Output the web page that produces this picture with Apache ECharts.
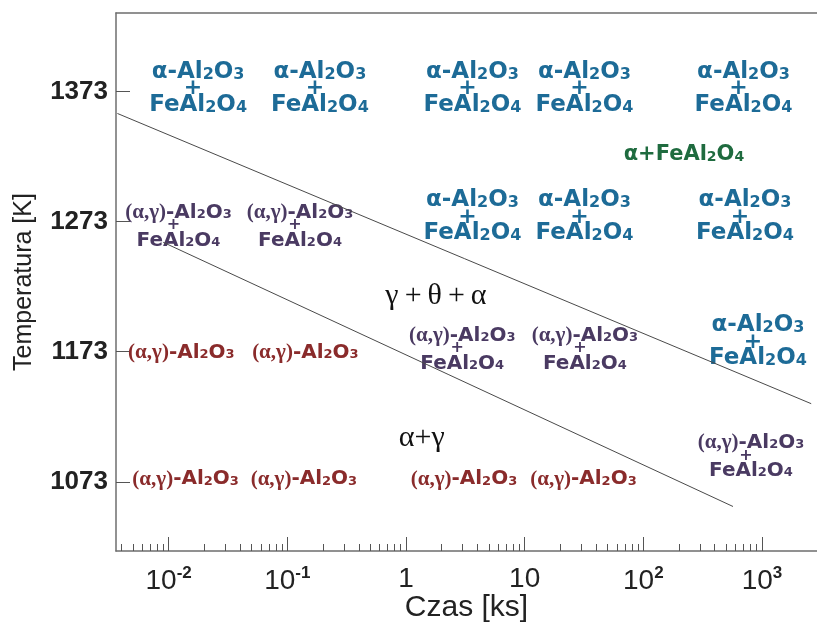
<!DOCTYPE html>
<html>
<head>
<meta charset="utf-8">
<script src="https://cdn.jsdelivr.net/npm/echarts@6/dist/echarts.min.js"></script>
<style>
  html, body { margin: 0; padding: 0; background: #fff; }
  #chart { width: 817px; height: 624px; }
</style>
</head>
<body>
<div id="chart"></div>
<script>
// Axis ranges: annealing time [ks] (log scale) and temperature [K]
const timeMin = 0.0036;
const timeMax = 2910;
const tempMin = 1019.8;
const tempMax = 1433.2;

// Tick positions
const tempTicks = [1073, 1173, 1273, 1373];
const timeMajorTicks = [0.01, 0.1, 1, 10, 100, 1000];
const timeTickLabels = ['10{s|-2}', '10{s|-1}', '1', '10', '10{s|2}', '10{s|3}'];
const timeMinorTicks = [
  0.004, 0.005, 0.006, 0.007, 0.008, 0.009,
  0.02, 0.03, 0.04, 0.05, 0.06, 0.07, 0.08, 0.09,
  0.2, 0.3, 0.4, 0.5, 0.6, 0.7, 0.8, 0.9,
  2, 3, 4, 5, 6, 7, 8, 9,
  20, 30, 40, 50, 60, 70, 80, 90,
  200, 300, 400, 500, 600, 700, 800, 900
];

// Phase boundary lines [time, temperature]
const upperBoundary = [[0.0037, 1356], [2600, 1133]];
const lowerBoundary = [[0.009, 1257], [570, 1054]];

// Observed phases [time, temperature]
const alphaSpinel = [
  [0.0177, 1375.2], [0.188, 1375.2], [3.63, 1375.2], [31.9, 1375.2], [699, 1375.2],
  [3.63, 1276.5], [31.9, 1276.5], [719, 1276.5],
  [925, 1180.5]
];
const alphaGammaSpinel = [
  [0.0121, 1268.5], [0.128, 1268.5],
  [2.98, 1174], [32.2, 1174],
  [808, 1091.5]
];
const alphaGamma = [
  [0.0128, 1172.2], [0.142, 1172.2],
  [0.0139, 1075], [0.138, 1075], [3.08, 1075], [31.3, 1075]
];
const alphaSpinelField = [[220, 1324.5]];

// Phase-field names [time, temperature, text]
const fieldNames = [
  [1.79, 1216, 'γ\u2009+\u2009θ\u2009+\u2009α'],
  [1.36, 1106.5, 'α+γ']
];

const blue = '#1d6b97';
const green = '#1f6b3f';
const purple = '#4a3a62';
const brown = '#8a2b2b';
const sans = 'DejaVu Sans';

function labelSeries(data, text, rich) {
  return {
    type: 'scatter',
    data: data,
    symbolSize: 1,
    itemStyle: { color: 'rgba(0,0,0,0)', opacity: 1 },
    silent: true,
    label: {
      show: true,
      position: 'inside',
      align: 'center',
      verticalAlign: 'middle',
      opacity: 1,
      formatter: text,
      rich: rich
    }
  };
}

const blueRich = {
  t: { fontFamily: sans, fontWeight: 'bold', fontSize: 23, color: blue, lineHeight: 17 },
  d: { fontFamily: sans, fontWeight: 'bold', fontSize: 16, color: blue, lineHeight: 17, padding: [5, 0, 0, 0] },
  p: { fontFamily: sans, fontWeight: 'bold', fontSize: 22, color: blue, lineHeight: 16, padding: [0, 10, 0, 0] }
};
const greenRich = {
  t: { fontFamily: sans, fontWeight: 'bold', fontSize: 21, color: green, lineHeight: 22 },
  d: { fontFamily: sans, fontWeight: 'bold', fontSize: 14, color: green, lineHeight: 22, padding: [5, 0, 0, 0] }
};
function mixRich(color, lh1, lhp, lh3) {
  return {
    g: { fontFamily: 'Liberation Serif', fontWeight: 'bold', fontSize: 21, color: color, lineHeight: lh1 },
    t: { fontFamily: sans, fontWeight: 'bold', fontSize: 20, color: color, lineHeight: lh1 },
    d: { fontFamily: sans, fontWeight: 'bold', fontSize: 13, color: color, lineHeight: lh1, padding: [4, 0, 0, 0] },
    p: { fontFamily: sans, fontWeight: 'bold', fontSize: 16, color: color, lineHeight: lhp, padding: [0, 10, 0, 0] },
    u: { fontFamily: sans, fontWeight: 'bold', fontSize: 20, color: color, lineHeight: lh3 },
    e: { fontFamily: sans, fontWeight: 'bold', fontSize: 13, color: color, lineHeight: lh3, padding: [4, 0, 0, 0] }
  };
}

const blueText = '{t|α-Al}{d|2}{t|O}{d|3}\n{p|+}\n{t|FeAl}{d|2}{t|O}{d|4}';
const greenText = '{t|α+FeAl}{d|2}{t|O}{d|4}';
const purpleText = '{g|(α,γ)}{t|-Al}{d|2}{t|O}{d|3}\n{p|+}\n{u|FeAl}{e|2}{u|O}{e|4}';
const brownText = '{g|(α,γ)}{t|-Al}{d|2}{t|O}{d|3}';

const chart = echarts.init(document.getElementById('chart'), null, { renderer: 'canvas' });

const axisGray = '#6e6e6e';

chart.setOption({
  animation: false,
  backgroundColor: '#fff',
  grid: { left: 116, right: 0, top: 13, bottom: 73, containLabel: false, outerBoundsMode: 'none' },
  xAxis: [
    {
      type: 'log', min: timeMin, max: timeMax, position: 'bottom',
      name: 'Czas [ks]', nameLocation: 'middle', nameGap: 42, nameMoveOverlap: false,
      nameTextStyle: { fontFamily: 'Liberation Sans', fontSize: 30, color: '#222' },
      axisLine: { show: true, lineStyle: { color: axisGray, width: 1.5 } },
      axisTick: { show: true, inside: true, length: 14, customValues: timeMajorTicks,
                  lineStyle: { color: '#555', width: 1 } },
      axisLabel: {
        show: true, customValues: timeMajorTicks, margin: 14,
        fontFamily: 'Liberation Sans', fontSize: 28, color: '#222',
        formatter: function (v) {
          const i = Math.round(Math.log10(v)) + 2;
          return timeTickLabels[i];
        },
        rich: {
          s: { fontFamily: 'Liberation Sans', fontWeight: 'bold', fontSize: 17, color: '#222',
               verticalAlign: 'top', padding: [0, 0, 16, 0] }
        }
      },
      splitLine: { show: false }
    },
    {
      type: 'log', min: timeMin, max: timeMax, position: 'bottom',
      axisLine: { show: false },
      axisTick: { show: true, inside: true, length: 7, customValues: timeMinorTicks,
                  lineStyle: { color: '#555', width: 1 } },
      axisLabel: { show: false },
      splitLine: { show: false }
    },
    {
      type: 'log', min: timeMin, max: timeMax, position: 'top',
      axisLine: { show: true, lineStyle: { color: axisGray, width: 1.5 } },
      axisTick: { show: false },
      axisLabel: { show: false },
      splitLine: { show: false }
    }
  ],
  yAxis: {
    type: 'value', min: tempMin, max: tempMax,
    name: 'Temperatura [K]', nameLocation: 'middle', nameGap: 79, nameMoveOverlap: false,
    nameTextStyle: { fontFamily: 'Liberation Sans', fontSize: 25, color: '#222' },
    axisLine: { show: true, lineStyle: { color: axisGray, width: 1.5 } },
    axisTick: { show: true, inside: true, length: 14, customValues: tempTicks,
                lineStyle: { color: '#555', width: 1 } },
    axisLabel: { show: true, customValues: tempTicks, margin: 8,
                 formatter: function (v) { return String(Math.round(v)); },
                 fontFamily: 'Liberation Sans', fontWeight: 'bold', fontSize: 26, color: '#222' },
    splitLine: { show: false }
  },
  series: [
    {
      type: 'line', data: upperBoundary, showSymbol: false, silent: true,
      lineStyle: { color: '#4a4a4a', width: 1 }
    },
    {
      type: 'line', data: lowerBoundary, showSymbol: false, silent: true,
      lineStyle: { color: '#4a4a4a', width: 1 }
    },
    labelSeries(alphaSpinel, blueText, blueRich),
    labelSeries(alphaSpinelField, greenText, greenRich),
    labelSeries(alphaGammaSpinel, purpleText, mixRich(purple, 16, 10, 20)),
    labelSeries(alphaGamma, brownText, mixRich(brown, 20, 10, 20)),
    {
      type: 'scatter',
      data: fieldNames,
      symbolSize: 1,
      itemStyle: { color: 'rgba(0,0,0,0)', opacity: 1 },
      silent: true,
      label: {
        show: true, position: 'inside', opacity: 1,
        formatter: function (p) { return p.data[2]; },
        fontFamily: 'Liberation Serif', fontSize: 30, color: '#111'
      }
    }
  ]
});
</script>
</body>
</html>
